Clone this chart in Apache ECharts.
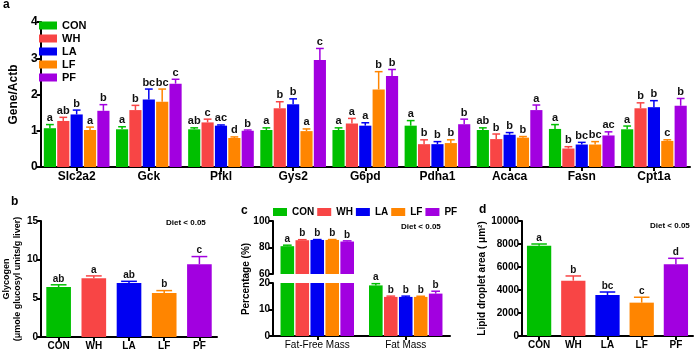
<!DOCTYPE html>
<html>
<head>
<meta charset="utf-8">
<script src="https://cdn.jsdelivr.net/npm/echarts@6/dist/echarts.min.js"></script>
<style>
html,body{margin:0;padding:0;background:#fff;}
#main{width:700px;height:351px;}
</style>
</head>
<body>
<div id="main"></div>
<script>
var FONT = 'Liberation Sans, Arial, sans-serif';

// groups
var groups = ['CON', 'WH', 'LA', 'LF', 'PF'];
var groupColors = ['#00bf00', '#f84545', '#0000f2', '#ff8500', '#a200e0'];

// panel a: gene expression
var genes = ['Slc2a2', 'Gck', 'Pfkl', 'Gys2', 'G6pd', 'Pdha1', 'Acaca', 'Fasn', 'Cpt1a'];
var aCON = [1.07, 1.04, 1.04, 1.02, 1.02, 1.14, 1.02, 1.05, 1.04];
var aWH  = [1.27, 1.57, 1.23, 1.62, 1.20, 0.63, 0.77, 0.51, 1.62];
var aLA  = [1.45, 1.86, 1.14, 1.73, 1.14, 0.63, 0.89, 0.62, 1.65];
var aLF  = [1.02, 1.80, 0.80, 0.99, 2.14, 0.66, 0.81, 0.62, 0.72];
var aPF  = [1.55, 2.30, 1.00, 2.95, 2.51, 1.18, 1.57, 0.87, 1.69];
var aCONerr = [0.10, 0.07, 0.04, 0.06, 0.06, 0.14, 0.06, 0.12, 0.09];
var aWHerr  = [0.10, 0.13, 0.09, 0.18, 0.14, 0.12, 0.14, 0.05, 0.15];
var aLAerr  = [0.12, 0.29, 0.02, 0.15, 0.08, 0.07, 0.06, 0.06, 0.18];
var aLFerr  = [0.08, 0.35, 0.03, 0.06, 0.49, 0.09, 0.03, 0.08, 0.03];
var aPFerr  = [0.17, 0.12, 0.02, 0.32, 0.18, 0.14, 0.14, 0.10, 0.20];
var aCONlet = ['a', 'a', 'ab', 'a', 'a', 'a', 'ab', 'a', 'a'];
var aWHlet  = ['ab', 'b', 'c', 'b', 'a', 'b', 'b', 'b', 'b'];
var aLAlet  = ['b', 'bc', 'ac', 'b', 'a', 'b', 'b', 'bc', 'b'];
var aLFlet  = ['a', 'bc', 'd', 'a', 'b', 'b', 'b', 'bc', 'c'];
var aPFlet  = ['b', 'c', 'b', 'c', 'b', 'b', 'a', 'ac', 'b'];
var aTicks = [0, 1, 2, 3, 4];

// panel b: glycogen
var bVal = [6.45, 7.60, 6.97, 5.68, 9.42];
var bErr = [0.30, 0.30, 0.23, 0.32, 0.98];
var bLet = ['ab', 'a', 'ab', 'b', 'c'];

// panel c: body composition
var cCats = ['Fat-Free Mass', 'Fat Mass'];
var cFFM = [81.0, 85.5, 85.7, 85.7, 84.5];
var cFFMerr = [0.75, 0.40, 0.30, 0.30, 0.50];
var cFFMlet = ['a', 'b', 'b', 'b', 'b'];
var cFM = [19.1, 14.75, 14.75, 14.75, 16.0];
var cFMerr = [0.65, 0.30, 0.30, 0.25, 0.90];
var cFMlet = ['a', 'b', 'b', 'b', 'b'];

// panel d: lipid droplet area
var dVal = [7850, 4810, 3565, 2900, 6235];
var dErr = [150, 410, 260, 470, 520];
var dLet = ['a', 'b', 'bc', 'c', 'd'];

var chart = echarts.init(document.getElementById('main'));

var axisLine = {show: true, lineStyle: {color: '#000', width: 2}};
var axisTick = {show: true, length: 4, lineStyle: {color: '#000', width: 2}};

function yAx(grid, min, max, interval, fs) {
    return {
        type: 'value', gridIndex: grid, min: min, max: max, interval: interval,
        axisLine: axisLine, axisTick: axisTick, splitLine: {show: false},
        axisLabel: {color: '#000', fontWeight: 'bold', fontSize: fs, fontFamily: FONT, margin: 3,
            formatter: function (v) { return String(v); }}
    };
}
function xAx(grid, cats, fs, weight, show) {
    return {
        type: 'category', gridIndex: grid, data: cats, show: show !== false,
        axisLine: axisLine, axisTick: {show: true, alignWithLabel: true, length: 4, lineStyle: {color: '#000', width: 2}},
        axisLabel: {color: '#000', fontWeight: weight, fontSize: fs, fontFamily: FONT, margin: 4}
    };
}

// error bar + significance letter, positioned from the bar layout
function errSeries(xi, yi, data, letters, idx, n, catGap, barGap, color, fs) {
    return {
        type: 'custom', xAxisIndex: xi, yAxisIndex: yi, z: 5,
        data: data,
        encode: {x: 0, y: 1},
        renderItem: function (params, api) {
            var ci = api.value(0), m = api.value(1), s = api.value(2);
            var base = api.coord([ci, m]);
            var top = api.coord([ci, m + s]);
            var band = api.size([1, 0])[0];
            var total = band * (1 - catGap);
            var bw = total / (n + (n - 1) * barGap);
            var x = base[0] - total / 2 + idx * bw * (1 + barGap) + bw / 2;
            var cap = Math.max(3, bw * 0.32);
            return {
                type: 'group',
                children: [
                    {type: 'line', shape: {x1: x, y1: base[1], x2: x, y2: top[1]}, style: {stroke: color, lineWidth: 1.5}},
                    {type: 'line', shape: {x1: x - cap, y1: top[1], x2: x + cap, y2: top[1]}, style: {stroke: color, lineWidth: 1.5}},
                    {type: 'text', style: {text: letters[params.dataIndex], x: x, y: top[1] - 1, align: 'center', verticalAlign: 'bottom',
                        font: 'bold ' + fs + 'px ' + FONT, fill: '#111'}}
                ]
            };
        }
    };
}

var aVals = [aCON, aWH, aLA, aLF, aPF];
var aErrs = [aCONerr, aWHerr, aLAerr, aLFerr, aPFerr];
var aLets = [aCONlet, aWHlet, aLAlet, aLFlet, aPFlet];

var series = [];
var A_CAT = 0.09, A_GAP = 0.1;
groups.forEach(function (g, i) {
    series.push({
        name: g, type: 'bar', xAxisIndex: 0, yAxisIndex: 0,
        data: aVals[i], itemStyle: {color: groupColors[i]},
        barCategoryGap: (A_CAT * 100) + '%', barGap: (A_GAP * 100) + '%'
    });
});
groups.forEach(function (g, i) {
    series.push(errSeries(0, 0, aVals[i].map(function (v, k) { return [k, v, aErrs[i][k]]; }),
        aLets[i], i, 5, A_CAT, A_GAP, groupColors[i], 11));
});

// panel b
series.push({
    type: 'bar', xAxisIndex: 1, yAxisIndex: 1, barCategoryGap: '30%',
    data: bVal.map(function (v, i) { return {value: v, itemStyle: {color: groupColors[i]}}; })
});
bVal.forEach(function (v, i) {
    series.push(errSeries(1, 1, [[i, v, bErr[i]]], [bLet[i]], 0, 1, 0.3, 0, groupColors[i], 10));
});

// panel c (broken axis: top 60-100, bottom 0-20)
var C_CAT = 0.17, C_GAP = 0.1;
groups.forEach(function (g, i) {
    series.push({
        name: g, type: 'bar', xAxisIndex: 2, yAxisIndex: 2,
        data: [cFFM[i], '-'], itemStyle: {color: groupColors[i]},
        barCategoryGap: (C_CAT * 100) + '%', barGap: (C_GAP * 100) + '%'
    });
    series.push({
        name: g, type: 'bar', xAxisIndex: 3, yAxisIndex: 3,
        data: [cFFM[i], cFM[i]], itemStyle: {color: groupColors[i]},
        barCategoryGap: (C_CAT * 100) + '%', barGap: (C_GAP * 100) + '%'
    });
    series.push(errSeries(2, 2, [[0, cFFM[i], cFFMerr[i]]], [cFFMlet[i]], i, 5, C_CAT, C_GAP, groupColors[i], 10));
    series.push(errSeries(3, 3, [[1, cFM[i], cFMerr[i]]], [cFMlet[i]], i, 5, C_CAT, C_GAP, groupColors[i], 10));
});

// panel d
series.push({
    type: 'bar', xAxisIndex: 4, yAxisIndex: 4, barCategoryGap: '29%',
    data: dVal.map(function (v, i) { return {value: v, itemStyle: {color: groupColors[i]}}; })
});
dVal.forEach(function (v, i) {
    series.push(errSeries(4, 4, [[i, v, dErr[i]]], [dLet[i]], 0, 1, 0.29, 0, groupColors[i], 10));
});

var titleStyle = {fontSize: 12, fontWeight: 'bold', color: '#000', fontFamily: FONT};
var dietStyle = {text: 'Diet < 0.05', font: 'bold 8px ' + FONT, fill: '#000'};

var option = {
    animation: false,
    backgroundColor: '#fff',
    title: [
        {text: 'a', left: 3, top: -1, textStyle: titleStyle, padding: 0},
        {text: 'b', left: 11, top: 196, textStyle: titleStyle, padding: 0},
        {text: 'c', left: 241, top: 205, textStyle: titleStyle, padding: 0},
        {text: 'd', left: 479, top: 204, textStyle: titleStyle, padding: 0}
    ],
    legend: [
        {data: groups, orient: 'vertical', left: 39, top: 20, padding: 0, itemWidth: 18, itemHeight: 8, itemGap: 2,
            icon: 'rect', textStyle: {fontSize: 11, fontWeight: 'bold', color: '#000', fontFamily: FONT}},
        {data: groups, orient: 'horizontal', left: 273, top: 207, padding: 0, itemWidth: 14, itemHeight: 8, itemGap: 3,
            icon: 'rect', textStyle: {fontSize: 10, fontWeight: 'bold', color: '#000', fontFamily: FONT}}
    ],
    grid: [
        {left: 32, top: 22, width: 658, height: 145},
        {left: 40, top: 221, width: 177, height: 116},
        {left: 273, top: 221, width: 177, height: 53},
        {left: 273, top: 283, width: 177, height: 53},
        {left: 522, top: 221, width: 171, height: 115}
    ],
    xAxis: [
        xAx(0, genes, 12, 'bold'),
        xAx(1, groups, 10, 'bold'),
        xAx(2, cCats, 10, 'normal', false),
        xAx(3, cCats, 10, 'normal'),
        xAx(4, groups, 10, 'bold')
    ],
    yAxis: [
        Object.assign(yAx(0, aTicks[0], aTicks[aTicks.length - 1], 1, 12),
            {name: 'Gene/Actb', nameLocation: 'middle', nameGap: 18, nameRotate: 90,
             nameTextStyle: {fontSize: 12, fontWeight: 'bold', color: '#000', fontFamily: FONT}}),
        Object.assign(yAx(1, 0, 15, 5, 10),
            {name: 'Glycogen\n(\u03bcmole glucosyl units/g liver)', nameLocation: 'middle', nameGap: 17, nameRotate: 90,
             nameTextStyle: {fontSize: 9, fontWeight: 'bold', color: '#000', fontFamily: FONT, lineHeight: 11}}),
        yAx(2, 60, 100, 20, 10),
        yAx(3, 0, 20, 10, 10),
        Object.assign(yAx(4, 0, 10000, 2000, 10),
            {name: 'Lipid droplet area ( \u03bcm\u00b2)', nameLocation: 'middle', nameGap: 33, nameRotate: 90,
             nameTextStyle: {fontSize: 10, fontWeight: 'bold', color: '#000', fontFamily: FONT}})
    ],
    graphic: [
        {type: 'text', left: 166, top: 219, style: dietStyle},
        {type: 'text', left: 401, top: 223, style: dietStyle},
        {type: 'text', left: 650, top: 222, style: dietStyle},
        {type: 'text', x: 246, y: 279, rotation: Math.PI / 2,
            style: {text: 'Percentage (%)', font: 'bold 10px ' + FONT, fill: '#000', align: 'center', verticalAlign: 'middle'}}
    ],
    series: series
};
chart.setOption(option);
</script>
</body>
</html>
